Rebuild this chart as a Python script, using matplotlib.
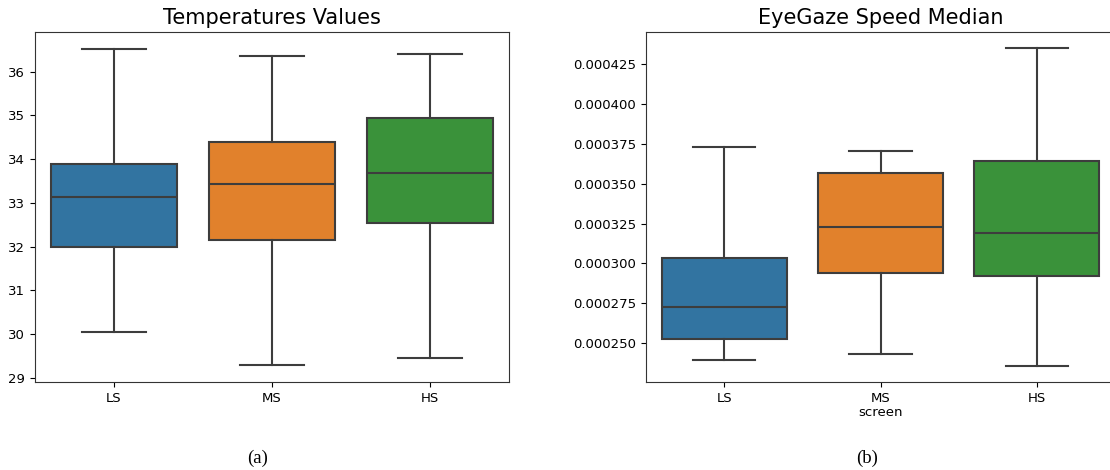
import matplotlib
matplotlib.use("Agg")
import matplotlib.pyplot as plt

# screen conditions
screens = ["LS", "MS", "HS"]
box_colors = ["#3274a1", "#e1812c", "#3a923a"]

# Temperatures: lower whisker, Q1, median, Q3, upper whisker
temp_low = [30.04, 29.30, 29.46]
temp_q1 = [31.98, 32.14, 32.55]
temp_med = [33.13, 33.44, 33.68]
temp_q3 = [33.88, 34.39, 34.94]
temp_high = [36.53, 36.36, 36.40]

# EyeGaze speed median
gaze_low = [0.0002397, 0.0002432, 0.0002355]
gaze_q1 = [0.0002526, 0.0002937, 0.0002920]
gaze_med = [0.0002726, 0.0003228, 0.0003190]
gaze_q3 = [0.0003033, 0.0003565, 0.0003643]
gaze_high = [0.0003730, 0.0003706, 0.0004350]

line_col = "#3d3d3d"


def make_stats(low, q1, med, q3, high):
    stats = []
    for i in range(len(low)):
        stats.append({"whislo": low[i], "q1": q1[i], "med": med[i],
                      "q3": q3[i], "whishi": high[i], "fliers": []})
    return stats


def draw_box(ax, stats, title):
    props = dict(color=line_col, linewidth=1.5)
    parts = ax.bxp(stats, positions=range(len(stats)), widths=0.8,
                   patch_artist=True, showfliers=False,
                   boxprops=dict(edgecolor=line_col, linewidth=1.5),
                   medianprops=props, whiskerprops=props, capprops=props)
    for patch, c in zip(parts["boxes"], box_colors):
        patch.set_facecolor(c)
    ax.set_xlim(-0.5, len(stats) - 0.5)
    ax.set_xticks(range(len(stats)))
    ax.set_xticklabels(screens)
    ax.set_title(title, fontsize=15)
    ax.tick_params(labelsize=9.5)
    for s in ax.spines.values():
        s.set_color("#333333")


fig = plt.figure(figsize=(11.1, 4.7), dpi=100)
ax1 = fig.add_axes([35 / 1110, 1 - 382 / 470, 474 / 1110, 350 / 470])
ax2 = fig.add_axes([646 / 1110, 1 - 382 / 470, 469 / 1110, 350 / 470])

draw_box(ax1, make_stats(temp_low, temp_q1, temp_med, temp_q3, temp_high),
         "Temperatures Values")
ax1.set_ylim(28.9, 36.91)

draw_box(ax2, make_stats(gaze_low, gaze_q1, gaze_med, gaze_q3, gaze_high),
         "EyeGaze Speed Median")
ax2.set_ylim(0.0002257, 0.000445)
ax2.set_yticks([0.000250, 0.000275, 0.000300, 0.000325, 0.000350,
                0.000375, 0.000400, 0.000425])
ax2.set_yticklabels([f"{v:.6f}" for v in ax2.get_yticks()])
ax2.set_xlabel("screen", fontsize=9.5, labelpad=1)
ax2.spines["right"].set_visible(False)

fig.text(258 / 1110, 1 - 458 / 470, "(a)", family="Liberation Serif",
         fontsize=13.5, ha="center", va="center")
fig.text(867 / 1110, 1 - 458 / 470, "(b)", family="Liberation Serif",
         fontsize=13.5, ha="center", va="center")

fig.savefig("out.png", dpi=100)
